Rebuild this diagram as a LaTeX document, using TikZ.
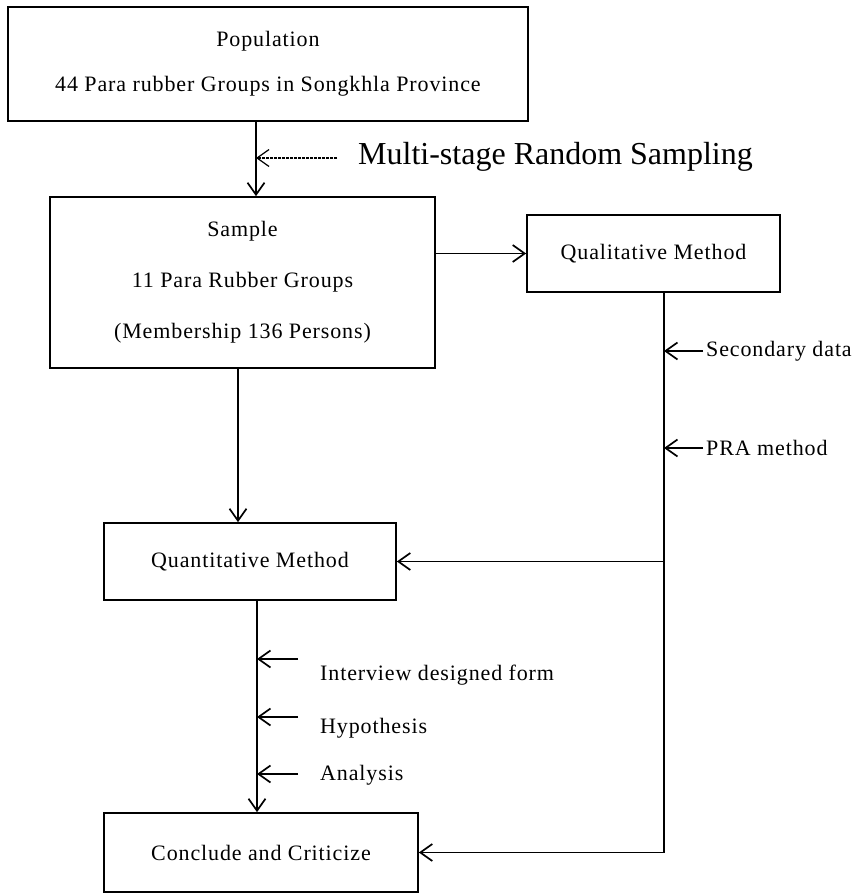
\documentclass[tikz,border=0pt]{standalone}
\usepackage{fontspec}
\setmainfont{Liberation Serif}
\newfontfamily\scanfont{Liberation Serif}[LetterSpace=4]
\usetikzlibrary{arrows.meta}

\begin{document}
\begin{tikzpicture}[x=1pt, y=-1pt,
    box/.style={draw, line width=1.7pt, inner sep=0pt, align=center,
        font=\scanfont\fontsize{22}{45}\selectfont},
    lbl/.style={inner sep=0pt, anchor=west, font=\scanfont\fontsize{22}{25}\selectfont},
    arr/.style={line width=1.7pt, -{Straight Barb[length=12pt, width=17pt]}}]
    \useasboundingbox (0,0) rectangle (856,893);

    \node[box, minimum width=520pt, minimum height=114pt] (pop) at (268,64)
        {Population\\44 Para rubber Groups in Songkhla Province};
    \node[box, minimum width=385pt, minimum height=171pt,
        font=\scanfont\fontsize{22}{51}\selectfont] (sample) at (242.5,282.5)
        {Sample\\11 Para Rubber Groups\\(Membership 136 Persons)};
    \node[box, minimum width=253pt, minimum height=77pt] (qual) at (653.5,253.5) {Qualitative Method};
    \node[box, minimum width=292pt, minimum height=77pt] (quant) at (250,561.5) {Quantitative Method};
    \node[box, minimum width=314pt, minimum height=79pt] (concl) at (261,852.5) {Conclude and Criticize};

    \node[lbl, font=\fontsize{32}{36}\selectfont] (msrs) at (358,157) {Multi-stage Random Sampling};
    \node[lbl] (sec) at (706,351) {Secondary data};
    \node[lbl] (pra) at (706,448) {PRA method};
    \node[lbl] (intv) at (320,675) {Interview designed form};
    \node[lbl] (hyp) at (320,728) {Hypothesis};
    \node[lbl] (ana) at (320,775) {Analysis};

    \coordinate (popline) at (256,158);
    \coordinate (qturn) at (664,852.5);
    \coordinate (qjoin) at (664,561.5);
    \coordinate (qline) at (257,700);
    \coordinate (a1) at (298,659);
    \coordinate (a2) at (298,717);
    \coordinate (a3) at (298,774);

    \draw[arr] ([xshift=-12pt]pop.south) -- ([xshift=13.5pt]sample.north);
    \draw[arr, line width=1.2pt, dash pattern=on 3pt off 1pt] ([xshift=-21pt]msrs.west |- popline) -- (popline);
    \draw[arr] (sample.east |- qual.west) -- (qual.west);
    \draw[arr] ([xshift=-4.5pt]sample.south) -- ([xshift=-12pt]quant.north);
    \draw[arr] ([xshift=7pt]quant.south) -- ([xshift=-4pt]concl.north);

    \draw[arr] ([xshift=10.5pt]qual.south) -- (qturn) -- (concl.east);
    \draw[arr] (qjoin) -- (quant.east);
    \draw[arr] ([xshift=-3pt]sec.west) -- (sec.west -| qturn);
    \draw[arr] ([xshift=-3pt]pra.west) -- (pra.west -| qturn);

    \draw[arr] (a1) -- (a1 -| qline);
    \draw[arr] (a2) -- (a2 -| qline);
    \draw[arr] (a3) -- (a3 -| qline);
\end{tikzpicture}
\end{document}
